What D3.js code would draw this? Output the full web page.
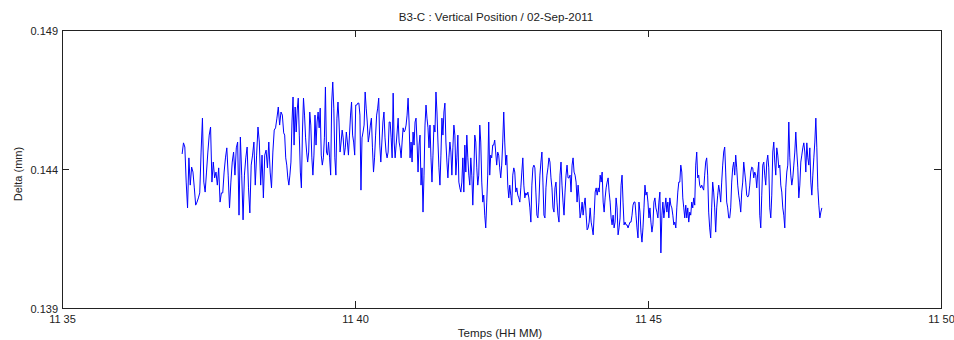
<!DOCTYPE html>
<html><head><meta charset="utf-8">
<script src="https://cdn.jsdelivr.net/npm/d3@7"></script>
<style>
body{margin:0;background:#fff}
svg{display:block}
text{font-family:"Liberation Sans",Arial,Helvetica,sans-serif;fill:#222}
</style>
</head><body>
<svg id="chart" width="954" height="340"></svg>
<script>
const chartTitle = "B3-C : Vertical Position / 02-Sep-2011";
const xLabel = "Temps (HH MM)";
const yLabel = "Delta (mm)";
const day = "2011-09-02";
const xDomain = ["11:35:00", "11:50:00"];
const xTicks = ["11:35:00", "11:40:00", "11:45:00", "11:50:00"];
const yTicks = [0.139, 0.144, 0.149];
const yDomain = [0.139, 0.149];

// start / end time of each recorded block (uniform sampling inside a block)
const segmentTimes = [
  ["11:37:03", "11:38:47"],
  ["11:38:48", "11:40:35"],
  ["11:40:36", "11:42:21"],
  ["11:42:22", "11:44:09"],
  ["11:44:10", "11:45:56"],
  ["11:45:57", "11:47:58"]
];

const seg1 = [0.14454,0.14494,0.14479,0.14353,0.14260,0.14440,0.14342,0.14407,0.14389,0.14332,0.14270,0.14281,0.14296,0.14314,0.14461,0.14583,0.14353,0.14317,0.14389,0.14461,0.14522,0.14551,0.14353,0.14425,0.14368,0.14389,0.14342,0.14404,0.14281,0.14314,0.14314,0.14389,0.14440,0.14476,0.14378,0.14260,0.14353,0.14425,0.14461,0.14378,0.14476,0.14497,0.14234,0.14515,0.14378,0.14217,0.14378,0.14440,0.14479,0.14332,0.14242,0.14414,0.14450,0.14497,0.14342,0.14450,0.14551,0.14497,0.14342,0.14450,0.14296,0.14450,0.14468,0.14404,0.14497,0.14389,0.14332,0.14461,0.14540,0.14548,0.14583,0.14623,0.14558,0.14605,0.14594,0.14530];

const seg2 = [0.14522,0.14440,0.14414,0.14368,0.14342,0.14378,0.14425,0.14569,0.14659,0.14486,0.14623,0.14533,0.14612,0.14655,0.14522,0.14389,0.14332,0.14533,0.14655,0.14594,0.14512,0.14461,0.14425,0.14461,0.14605,0.14558,0.14440,0.14378,0.14450,0.14594,0.14486,0.14569,0.14605,0.14548,0.14619,0.14450,0.14414,0.14440,0.14512,0.14695,0.14461,0.14450,0.14497,0.14440,0.14378,0.14641,0.14713,0.14619,0.14440,0.14378,0.14583,0.14641,0.14569,0.14461,0.14497,0.14540,0.14512,0.14450,0.14476,0.14533,0.14497,0.14450,0.14522,0.14594,0.14641,0.14522,0.14497,0.14450,0.14630,0.14630,0.14637,0.14637,0.14594,0.14324,0.14512,0.14533,0.14558,0.14677,0.14619,0.14569,0.14497,0.14522,0.14558,0.14583,0.14476,0.14389,0.14440,0.14522,0.14594,0.14619,0.14655,0.14486,0.14425,0.14497,0.14569,0.14605,0.14512,0.14461,0.14440,0.14461,0.14569];

const seg3 = [0.14569,0.14512,0.14440,0.14673,0.14497,0.14440,0.14486,0.14533,0.14583,0.14497,0.14476,0.14440,0.14497,0.14548,0.14533,0.14540,0.14558,0.14594,0.14655,0.14569,0.14440,0.14497,0.14425,0.14533,0.14486,0.14569,0.14583,0.14497,0.14389,0.14486,0.14522,0.14342,0.14404,0.14245,0.14378,0.14558,0.14630,0.14583,0.14548,0.14476,0.14558,0.14440,0.14353,0.14450,0.14558,0.14533,0.14677,0.14605,0.14497,0.14404,0.14342,0.14450,0.14583,0.14522,0.14605,0.14637,0.14497,0.14425,0.14368,0.14440,0.14497,0.14461,0.14378,0.14476,0.14558,0.14522,0.14378,0.14440,0.14522,0.14353,0.14332,0.14317,0.14353,0.14440,0.14317,0.14486,0.14389,0.14522,0.14440,0.14378,0.14342,0.14440,0.14378,0.14270,0.14378,0.14522,0.14497,0.14404,0.14342,0.14378,0.14558,0.14497,0.14353,0.14281,0.14306,0.14234,0.14188,0.14281,0.14378,0.14569,0.14378,0.14450,0.14440,0.14486];

const seg4 = [0.14486,0.14504,0.14461,0.14414,0.14461,0.14450,0.14404,0.14368,0.14414,0.14497,0.14605,0.14497,0.14414,0.14450,0.14342,0.14296,0.14342,0.14306,0.14270,0.14378,0.14404,0.14389,0.14317,0.14332,0.14306,0.14296,0.14281,0.14332,0.14389,0.14440,0.14342,0.14296,0.14314,0.14306,0.14317,0.14296,0.14260,0.14209,0.14342,0.14404,0.14414,0.14404,0.14317,0.14234,0.14224,0.14281,0.14378,0.14425,0.14461,0.14353,0.14234,0.14224,0.14332,0.14378,0.14404,0.14440,0.14425,0.14368,0.14332,0.14260,0.14245,0.14332,0.14353,0.14281,0.14234,0.14209,0.14378,0.14425,0.14342,0.14281,0.14234,0.14317,0.14378,0.14414,0.14368,0.14368,0.14378,0.14317,0.14414,0.14440,0.14389,0.14378,0.14353,0.14281,0.14342,0.14296,0.14224,0.14245,0.14281,0.14234,0.14270,0.14296,0.14234,0.14181,0.14188,0.14209,0.14260,0.14209,0.14188,0.14163,0.14234,0.14317,0.14332,0.14306,0.14332];

const seg5 = [0.14317,0.14378,0.14353,0.14389,0.14281,0.14245,0.14296,0.14332,0.14353,0.14368,0.14317,0.14281,0.14224,0.14199,0.14234,0.14188,0.14209,0.14296,0.14260,0.14163,0.14188,0.14224,0.14342,0.14378,0.14281,0.14199,0.14209,0.14199,0.14199,0.14188,0.14199,0.14209,0.14209,0.14234,0.14270,0.14281,0.14281,0.14234,0.14188,0.14152,0.14281,0.14245,0.14173,0.14137,0.14188,0.14260,0.14342,0.14306,0.14317,0.14281,0.14224,0.14260,0.14209,0.14173,0.14199,0.14281,0.14296,0.14260,0.14245,0.14224,0.14281,0.14317,0.14098,0.14234,0.14281,0.14224,0.14260,0.14296,0.14245,0.14281,0.14224,0.14296,0.14270,0.14260,0.14234,0.14199,0.14209,0.14188,0.14260,0.14317,0.14353,0.14353,0.14414,0.14389,0.14296,0.14260,0.14224,0.14270,0.14224,0.14260,0.14209,0.14245,0.14234,0.14281,0.14260,0.14296,0.14270,0.14414,0.14461,0.14368,0.14378,0.14342,0.14332,0.14342,0.14332];

const seg6 = [0.14324,0.14378,0.14425,0.14440,0.14378,0.14245,0.14188,0.14152,0.14260,0.14353,0.14317,0.14260,0.14173,0.14260,0.14306,0.14342,0.14317,0.14281,0.14353,0.14414,0.14461,0.14479,0.14389,0.14281,0.14260,0.14224,0.14224,0.14260,0.14353,0.14404,0.14425,0.14378,0.14450,0.14404,0.14342,0.14306,0.14281,0.14245,0.14317,0.14353,0.14425,0.14389,0.14353,0.14306,0.14299,0.14306,0.14342,0.14389,0.14407,0.14404,0.14368,0.14389,0.14378,0.14332,0.14389,0.14425,0.14234,0.14188,0.14306,0.14414,0.14425,0.14378,0.14342,0.14425,0.14450,0.14404,0.14260,0.14224,0.14306,0.14461,0.14497,0.14425,0.14378,0.14476,0.14450,0.14404,0.14414,0.14342,0.14317,0.14260,0.14234,0.14188,0.14332,0.14389,0.14414,0.14569,0.14440,0.14378,0.14342,0.14368,0.14414,0.14461,0.14533,0.14461,0.14404,0.14296,0.14342,0.14425,0.14450,0.14476,0.14494,0.14461,0.14389,0.14494,0.14440,0.14414,0.14476,0.14353,0.14306,0.14378,0.14440,0.14497,0.14583,0.14476,0.14332,0.14270,0.14224,0.14245,0.14260];

const segments = [seg1, seg2, seg3, seg4, seg5, seg6];

(function () {
const parse = d3.timeParse("%Y-%m-%d %H:%M:%S");
const T = s => parse(day + " " + s);

const series = [];
segments.forEach((vals, i) => {
  const t0 = +T(segmentTimes[i][0]), t1 = +T(segmentTimes[i][1]);
  const n = vals.length;
  vals.forEach((v, j) => {
    series.push({t: new Date(t0 + (t1 - t0) * j / (n - 1)), v});
  });
});

const svg = d3.select("#chart");
const mL = 62, mR = 941, mT = 30, mB = 308;

const x = d3.scaleTime().domain(xDomain.map(T)).range([mL, mR]);
const y = d3.scaleLinear().domain(yDomain).range([mB, mT]);

const tickLen = 7;
const tickVals = xTicks.map(T);

const gx = svg.append("g").attr("transform", `translate(0,${mB})`)
  .call(d3.axisBottom(x).tickValues(tickVals).tickFormat(d3.timeFormat("%H %M"))
    .tickSizeInner(-tickLen).tickSizeOuter(0).tickPadding(7));
const gy = svg.append("g").attr("transform", `translate(${mL},0)`)
  .call(d3.axisLeft(y).tickValues(yTicks).tickFormat(d3.format(".3f"))
    .tickSizeInner(-tickLen).tickSizeOuter(0).tickPadding(4));
const gt = svg.append("g").attr("transform", `translate(0,${mT})`)
  .call(d3.axisTop(x).tickValues(tickVals).tickFormat("")
    .tickSizeInner(-tickLen).tickSizeOuter(0));
const gr = svg.append("g").attr("transform", `translate(${mR},0)`)
  .call(d3.axisRight(y).tickValues(yTicks).tickFormat("")
    .tickSizeInner(-tickLen).tickSizeOuter(0));

[gx, gy, gt, gr].forEach(g => {
  g.select(".domain").remove();
  g.selectAll("line").attr("stroke", "#222").attr("shape-rendering", "crispEdges");
  g.selectAll("text").attr("font-size", 11).attr("fill", "#222")
    .style("font-family", '"Liberation Sans", Arial, sans-serif');
});
gy.selectAll("text").attr("dy", "0.45em");

svg.append("rect")
  .attr("x", mL + 0.5).attr("y", mT + 0.5)
  .attr("width", mR - mL).attr("height", mB - mT)
  .attr("fill", "none").attr("stroke", "#222").attr("stroke-width", 1);

svg.append("path")
  .datum(series)
  .attr("fill", "none")
  .attr("stroke", "#0000ff")
  .attr("stroke-width", 1)
  .attr("stroke-linejoin", "round")
  .attr("d", d3.line().x(d => x(d.t)).y(d => y(d.v)));

svg.append("text")
  .attr("x", 496).attr("y", 21)
  .attr("text-anchor", "middle").attr("font-size", 11.6)
  .text(chartTitle);

svg.append("text")
  .attr("x", 500).attr("y", 337)
  .attr("text-anchor", "middle").attr("font-size", 11.6)
  .text(xLabel);

svg.append("text")
  .attr("transform", `translate(22,${(mT + mB) / 2 + 5}) rotate(-90)`)
  .attr("text-anchor", "middle").attr("font-size", 11)
  .text(yLabel);
})();
</script>
</body></html>
